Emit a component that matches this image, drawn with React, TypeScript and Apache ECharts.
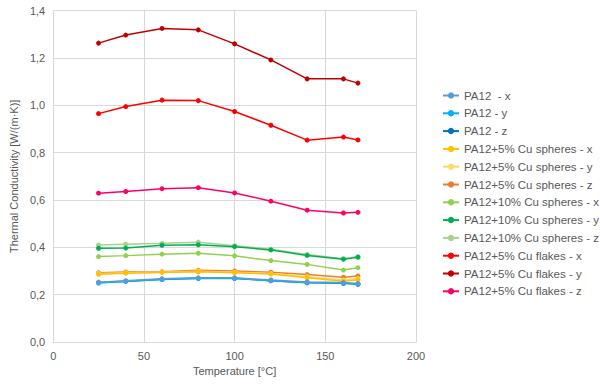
import React, { useEffect, useRef } from "react";
import * as echarts from "echarts";

const temperatures = [25, 40, 60, 80, 100, 120, 140, 160, 168];

const pa12X = [0.253, 0.259, 0.267, 0.271, 0.271, 0.262, 0.254, 0.251, 0.247];
const pa12Y = [0.249, 0.256, 0.264, 0.268, 0.268, 0.259, 0.250, 0.248, 0.245];
const pa12Z = [0.251, 0.257, 0.265, 0.269, 0.269, 0.259, 0.251, 0.248, 0.244];
const cu5SphX = [0.286, 0.291, 0.294, 0.297, 0.293, 0.287, 0.272, 0.257, 0.263];
const cu5SphY = [0.289, 0.293, 0.295, 0.299, 0.295, 0.289, 0.276, 0.262, 0.268];
const cu5SphZ = [0.293, 0.296, 0.297, 0.303, 0.300, 0.295, 0.285, 0.274, 0.279];
const cu10SphX = [0.361, 0.365, 0.371, 0.375, 0.364, 0.344, 0.328, 0.304, 0.314];
const cu10SphY = [0.396, 0.397, 0.409, 0.411, 0.403, 0.389, 0.366, 0.350, 0.358];
const cu10SphZ = [0.410, 0.413, 0.417, 0.422, 0.407, 0.392, 0.370, 0.352, 0.361];
const cu5FlkX = [0.965, 0.995, 1.022, 1.020, 0.974, 0.916, 0.853, 0.866, 0.854];
const cu5FlkY = [1.263, 1.297, 1.325, 1.319, 1.260, 1.192, 1.112, 1.112, 1.094];
const cu5FlkZ = [0.629, 0.636, 0.648, 0.652, 0.630, 0.595, 0.557, 0.545, 0.548];

const seriesNames = [
  "PA12  - x",
  "PA12 - y",
  "PA12 - z",
  "PA12+5% Cu spheres - x",
  "PA12+5% Cu spheres - y",
  "PA12+5% Cu spheres - z",
  "PA12+10% Cu spheres - x",
  "PA12+10% Cu spheres - y",
  "PA12+10% Cu spheres - z",
  "PA12+5% Cu flakes - x",
  "PA12+5% Cu flakes - y",
  "PA12+5% Cu flakes - z",
];
const seriesValues = [
  pa12X, pa12Y, pa12Z,
  cu5SphX, cu5SphY, cu5SphZ,
  cu10SphX, cu10SphY, cu10SphZ,
  cu5FlkX, cu5FlkY, cu5FlkZ,
];
const seriesColors = [
  "#5B9BD5", "#00B0F0", "#0070C0",
  "#FFC000", "#FFD966", "#ED7D31",
  "#92D050", "#00B050", "#A9D08E",
  "#FF0000", "#C00000", "#FF0066",
];

const xTicks = [0, 50, 100, 150, 200];
const yTicks = [0, 0.2, 0.4, 0.6, 0.8, 1.0, 1.2, 1.4];

const FONT = "Liberation Sans, Arial, sans-serif";
const GRAY = "#595959";
const GRID = "#D9D9D9";

export default function App() {
  const ref = useRef<HTMLDivElement>(null);
  useEffect(() => {
    if (!ref.current) return;
    const chart = echarts.init(ref.current, undefined, { renderer: "svg" });
    const series = seriesNames.map((name, i) => ({
      name,
      type: "line",
      data: temperatures.map((t, j) => [t, seriesValues[i][j]]),
      symbol: "circle",
      symbolSize: 5,
      showSymbol: true,
      lineStyle: { width: 1.5, color: seriesColors[i] },
      itemStyle: { color: seriesColors[i] },
      z: 12 - i,
    }));
    chart.setOption({
      animation: false,
      textStyle: { fontFamily: FONT },
      grid: { left: 50, right: 184, top: 10.7, bottom: 46, containLabel: false },
      legend: {
        orient: "vertical",
        left: 437,
        top: 84.5,
        itemWidth: 16,
        itemHeight: 8,
        itemGap: 5.8,
        textStyle: { color: GRAY, fontSize: 11.5, fontFamily: FONT },
        data: seriesNames,
      },
      xAxis: {
        type: "value",
        min: xTicks[0],
        max: xTicks[xTicks.length - 1],
        interval: 50,
        name: "Temperature [°C]",
        nameLocation: "middle",
        nameGap: 23,
        nameTextStyle: { color: GRAY, fontSize: 11, fontFamily: FONT },
        axisLine: { show: true, lineStyle: { color: GRID } },
        axisTick: { show: false },
        axisLabel: { color: GRAY, fontSize: 11, margin: 8 },
        splitLine: { show: true, lineStyle: { color: GRID, width: 1 } },
      },
      yAxis: {
        type: "value",
        min: yTicks[0],
        max: yTicks[yTicks.length - 1],
        interval: 0.2,
        name: "Thermal Conductivity [W/(m·K)]",
        nameLocation: "middle",
        nameGap: 32,
        nameTextStyle: { color: GRAY, fontSize: 11, fontFamily: FONT },
        axisLine: { show: true, lineStyle: { color: GRID } },
        axisTick: { show: false },
        axisLabel: {
          color: GRAY,
          fontSize: 11,
          margin: 8,
          formatter: (v: number) => v.toFixed(1).replace(".", ","),
        },
        splitLine: { show: true, lineStyle: { color: GRID, width: 1 } },
      },
      series,
    });
    return () => chart.dispose();
  }, []);
  return (
    <div
      ref={ref}
      style={{ position: "fixed", left: 0, top: 0, width: 600, height: 388, background: "#fff" }}
    />
  );
}
